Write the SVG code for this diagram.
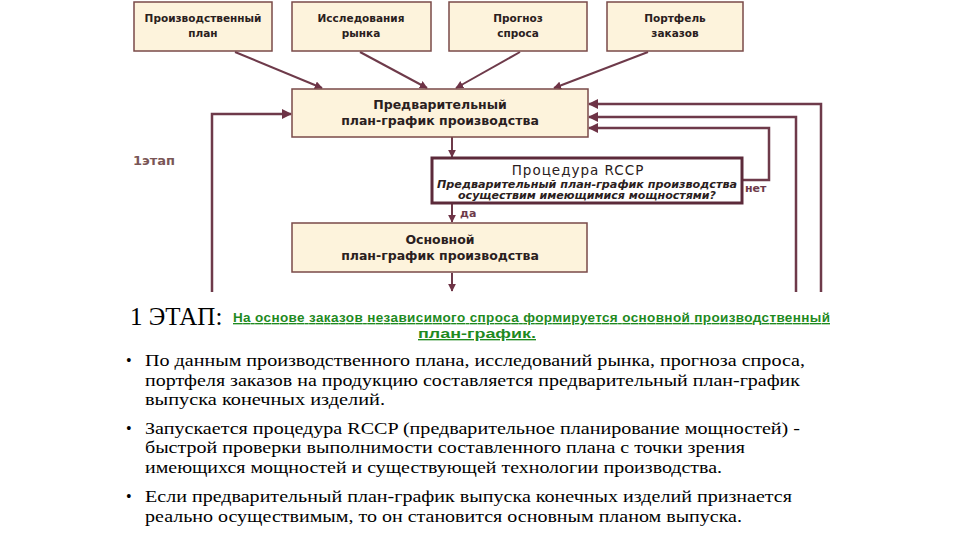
<svg xmlns="http://www.w3.org/2000/svg" width="960" height="540" viewBox="0 0 960 540">
<defs>
<marker id="ah" viewBox="0 0 10 10" refX="9" refY="5" markerWidth="4" markerHeight="4" orient="auto" markerUnits="strokeWidth">
<path d="M0,0 L10,5 L0,10 z" fill="#6e3346"/>
</marker>
</defs>
<style>
.box{fill:#fdf3dc;stroke:#7a4a48;stroke-width:1.5}
.rccp{fill:#ffffff;stroke:#5c2a3a;stroke-width:3}
.t{font-family:"DejaVu Sans","Liberation Sans",sans-serif;fill:#2a2020;text-anchor:middle;font-weight:bold}
.n{font-weight:normal}
.s{font-size:10.5px}
.m{font-size:12.5px}
.c{fill:none;stroke:#6e3a4a;stroke-width:2.5}
.a{fill:none;stroke:#6e3a4a;stroke-width:2}
.lbl{font-family:"DejaVu Sans","Liberation Sans",sans-serif;font-size:11px;font-weight:bold;fill:#6e3a4a}
.b{font-family:"Liberation Serif","Times New Roman",serif;font-size:17.5px;fill:#000}
.g{font-family:"Liberation Sans Narrow","Liberation Sans",sans-serif;font-size:13.5px;font-weight:bold;fill:#1f8a1f;text-decoration:underline}
</style>
<rect width="960" height="540" fill="#ffffff"/>

<g id="connectors">
<line class="a" x1="235" y1="52" x2="322" y2="88" marker-end="url(#ah)"/>
<line class="a" x1="360" y1="52" x2="427" y2="88" marker-end="url(#ah)"/>
<line class="a" x1="520" y1="52" x2="456" y2="88" marker-end="url(#ah)"/>
<line class="a" x1="648" y1="52" x2="554" y2="88" marker-end="url(#ah)"/>
<polyline class="c" points="212,292 212,114 291,114" marker-end="url(#ah)"/>
<polyline class="c" points="821,292 821,104 589,104" marker-end="url(#ah)"/>
<polyline class="c" points="796,292 796,117 589,117" marker-end="url(#ah)"/>
<polyline class="c" points="742,180 769,180 769,128 589,128" marker-end="url(#ah)"/>
<line class="a" x1="452" y1="137" x2="452" y2="157" marker-end="url(#ah)"/>
<line class="a" x1="452" y1="204" x2="452" y2="222" marker-end="url(#ah)"/>
<line class="a" x1="452" y1="273" x2="452" y2="291" marker-end="url(#ah)"/>
<text class="lbl" x="745" y="192">нет</text>
<text class="lbl" x="460" y="217">да</text>
</g>

<g id="n1">
<rect class="box" x="134" y="2" width="138" height="49"/>
<text class="t s" x="203" y="22">Производственный</text>
<text class="t s" x="203" y="37">план</text>
</g>
<g id="n2">
<rect class="box" x="292" y="2" width="139" height="49"/>
<text class="t s" x="361" y="22">Исследования</text>
<text class="t s" x="361" y="37">рынка</text>
</g>
<g id="n3">
<rect class="box" x="449" y="2" width="138" height="49"/>
<text class="t s" x="518" y="22">Прогноз</text>
<text class="t s" x="518" y="37">спроса</text>
</g>
<g id="n4">
<rect class="box" x="607" y="2" width="136" height="49"/>
<text class="t s" x="675" y="22">Портфель</text>
<text class="t s" x="675" y="37">заказов</text>
</g>

<g id="n5">
<rect class="box" x="292" y="89" width="296" height="48"/>
<text class="t m" x="440" y="109">Предварительный</text>
<text class="t m" x="440" y="125">план-график производства</text>
</g>

<g id="n6">
<rect class="rccp" x="432" y="158" width="310" height="45"/>
<text class="t n" x="578" y="175" font-size="13.5" letter-spacing="1">Процедура RCCP</text>
<text class="t" x="587" y="188" font-size="10" font-style="italic" textLength="300" lengthAdjust="spacingAndGlyphs">Предварительный план-график производства</text>
<text class="t" x="587" y="199" font-size="10" font-style="italic" textLength="258" lengthAdjust="spacingAndGlyphs">осуществим имеющимися мощностями?</text>
</g>

<g id="n7">
<rect class="box" x="292" y="223" width="295" height="49"/>
<text class="t m" x="440" y="244">Основной</text>
<text class="t m" x="440" y="260">план-график производства</text>
</g>

<text x="133" y="165" font-family="DejaVu Sans, Liberation Sans, sans-serif" font-size="13" font-weight="bold" fill="#7a5656">1этап</text>

<text x="130" y="325" font-family="Liberation Serif, Times New Roman, serif" font-size="25" fill="#000">1 ЭТАП:</text>
<text class="g" x="233" y="322" textLength="597" lengthAdjust="spacing">На основе заказов независимого спроса формируется основной производственный</text>
<text class="g" x="418" y="338" textLength="118" lengthAdjust="spacingAndGlyphs">план-график.</text>

<g class="b">
<text x="126" y="366" font-size="16">•</text>
<text x="145" y="366" textLength="660" lengthAdjust="spacingAndGlyphs">По данным производственного плана, исследований рынка, прогноза спроса,</text>
<text x="145" y="386" textLength="655" lengthAdjust="spacingAndGlyphs">портфеля заказов на продукцию составляется предварительный план-график</text>
<text x="145" y="405" textLength="240" lengthAdjust="spacingAndGlyphs">выпуска конечных изделий.</text>
<text x="126" y="434" font-size="16">•</text>
<text x="145" y="434" textLength="655" lengthAdjust="spacingAndGlyphs">Запускается процедура RCCP (предварительное планирование мощностей) -</text>
<text x="145" y="453" textLength="600" lengthAdjust="spacingAndGlyphs">быстрой проверки выполнимости составленного плана с точки зрения</text>
<text x="145" y="473" textLength="577" lengthAdjust="spacingAndGlyphs">имеющихся мощностей и существующей технологии производства.</text>
<text x="126" y="502" font-size="16">•</text>
<text x="145" y="502" textLength="647" lengthAdjust="spacingAndGlyphs">Если предварительный план-график выпуска конечных изделий признается</text>
<text x="145" y="522" textLength="597" lengthAdjust="spacingAndGlyphs">реально осуществимым, то он становится основным планом выпуска.</text>
</g>
</svg>
